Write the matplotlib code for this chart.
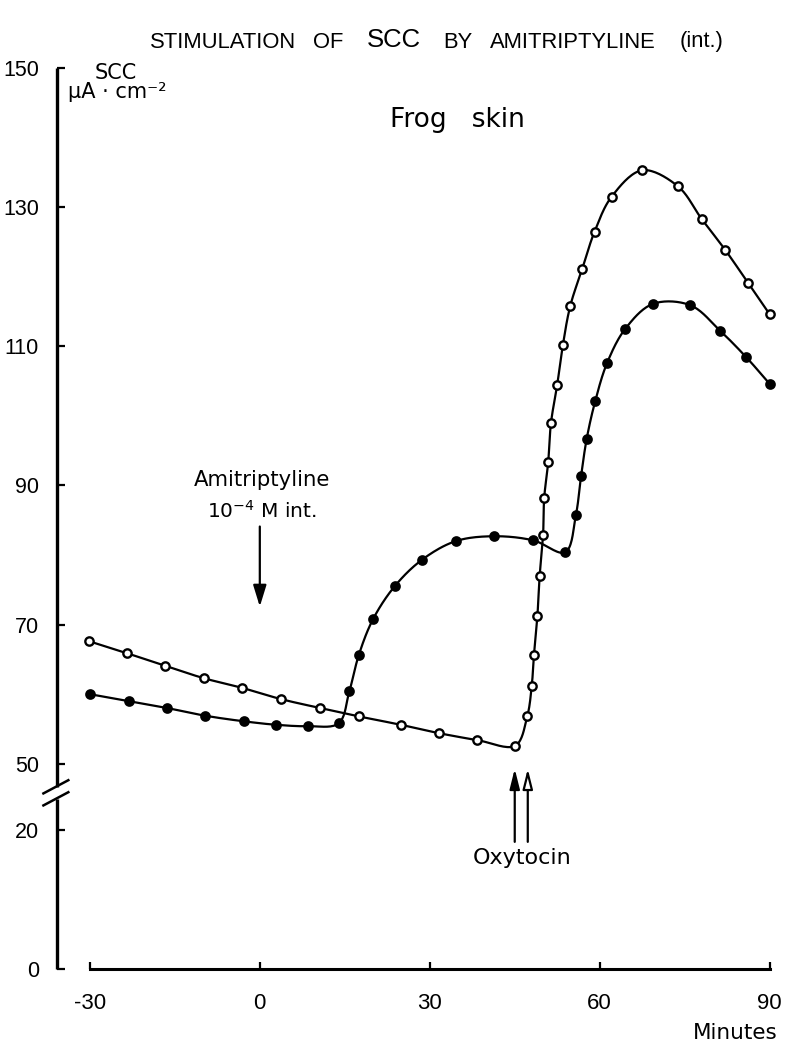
import numpy as np
import matplotlib
matplotlib.use("Agg")
import matplotlib.pyplot as plt

plt.rcParams['font.family'] = ['DejaVu Sans']
NUMFONT = ['Liberation Sans', 'DejaVu Sans']

# ---- data ----
t_open = [-30.1, -23.5, -16.8, -9.9, -3.1, 3.7, 10.7, 17.5, 24.9, 31.6, 38.4, 45.1,
          47.2, 48.0, 48.4, 49.0, 49.4, 50.0, 50.2, 50.9, 51.4, 52.5, 53.5,
          54.8, 56.9, 59.1, 62.1, 67.5, 73.8, 78.0, 82.2, 86.2, 90.0]
v_open = [67.6, 65.9, 64.1, 62.3, 60.9, 59.3, 58.0, 56.8, 55.6, 54.4, 53.4, 52.6,
          56.8, 61.2, 65.7, 71.3, 77.0, 82.9, 88.2, 93.3, 99.0, 104.5, 110.2,
          115.8, 121.1, 126.5, 131.5, 135.3, 133.0, 128.3, 123.8, 119.1, 114.6]

t_filled = [-30.0, -23.1, -16.3, -9.6, -2.8, 2.9, 8.5, 13.9, 15.8, 17.5, 20.0, 23.8,
            28.6, 34.6, 41.4, 48.3, 53.9, 55.8, 56.7, 57.7, 59.2, 61.3,
            64.5, 69.4, 76.0, 81.3, 85.9, 90.0]
v_filled = [60.0, 59.0, 58.0, 56.9, 56.1, 55.6, 55.4, 55.8, 60.4, 65.7, 70.8, 75.5,
            79.3, 82.0, 82.7, 82.1, 80.4, 85.8, 91.3, 96.7, 102.1, 107.6,
            112.5, 116.1, 115.9, 112.2, 108.4, 104.6]

y_ticks = [0, 20, 50, 70, 90, 110, 130, 150]
x_ticks = [-30, 0, 30, 60, 90]

BREAK_SHIFT = 20.5


def to_pos(v):
    v = np.asarray(v, dtype=float)
    return np.where(v <= 20, v, v - BREAK_SHIFT)


def smooth(x, y, sx=5.667, sy=6.95, n=20, alpha=0.5):
    P = np.column_stack([np.asarray(x) * sx, np.asarray(y) * sy])
    P = np.vstack([2 * P[0] - P[1], P, 2 * P[-1] - P[-2]])
    out = []
    for i in range(1, len(P) - 2):
        p0, p1, p2, p3 = P[i - 1], P[i], P[i + 1], P[i + 2]
        t0 = 0.0
        t1 = t0 + max(np.linalg.norm(p1 - p0), 1e-6) ** alpha
        t2 = t1 + max(np.linalg.norm(p2 - p1), 1e-6) ** alpha
        t3 = t2 + max(np.linalg.norm(p3 - p2), 1e-6) ** alpha
        ts = np.linspace(t1, t2, n)[:, None]
        A1 = (t1 - ts) / (t1 - t0) * p0 + (ts - t0) / (t1 - t0) * p1
        A2 = (t2 - ts) / (t2 - t1) * p1 + (ts - t1) / (t2 - t1) * p2
        A3 = (t3 - ts) / (t3 - t2) * p2 + (ts - t2) / (t3 - t2) * p3
        B1 = (t2 - ts) / (t2 - t0) * A1 + (ts - t0) / (t2 - t0) * A2
        B2 = (t3 - ts) / (t3 - t1) * A2 + (ts - t1) / (t3 - t1) * A3
        C = (t2 - ts) / (t2 - t1) * B1 + (ts - t1) / (t2 - t1) * B2
        out.append(C)
    C = np.vstack(out)
    return C[:, 0] / sx, C[:, 1] / sy


W, H = 789, 1054
fig = plt.figure(figsize=(W / 100, H / 100), dpi=100)
xmin, xmax = -35.8, 92.0
ax = fig.add_axes([57 / W, 1 - 969 / H, (781 - 57) / W, (969 - 68) / H])
ax.set_xlim(xmin, xmax)
ax.set_ylim(0, float(to_pos(150)))

lw = 1.6
for t, v, face in [(t_filled, v_filled, 'black'), (t_open, v_open, 'white')]:
    sx_, sy_ = smooth(t, to_pos(v))
    ax.plot(sx_, sy_, color='black', lw=lw, zorder=2)
    ax.plot(t, to_pos(v), 'o', ms=6.0, mfc=face, mec='black', mew=1.7, zorder=3)

# spines
for s in ['top', 'right', 'left']:
    ax.spines[s].set_visible(False)
ax.spines['bottom'].set_bounds(-30, 90)
ax.spines['bottom'].set_linewidth(2.2)

# left axis drawn with a break
lower_top = float((968 - 798) / 6.95)
upper_bot = float((968 - 786) / 6.95)
ax.plot([xmin, xmin], [0, lower_top], color='black', lw=2.4, clip_on=False, solid_capstyle='butt')
ax.plot([xmin, xmin], [upper_bot, float(to_pos(150))], color='black', lw=2.4, clip_on=False,
        solid_capstyle='butt')
for yc in (lower_top, upper_bot):
    ax.plot([xmin - 2.4, xmin + 2.0], [yc - 0.95, yc + 0.95], color='black', lw=1.8, clip_on=False)

ax.set_yticks(to_pos(y_ticks))
ax.set_yticklabels([str(v) for v in y_ticks], family=NUMFONT)
ax.set_xticks(x_ticks)
ax.set_xticklabels([str(v) for v in x_ticks], family=NUMFONT)
ax.tick_params(axis='y', direction='in', length=6, width=1.6, labelsize=15.5, pad=13)
ax.tick_params(axis='x', direction='in', length=5, width=1.6, labelsize=16, pad=17)

# texts
def ftext(px, py, s, **kw):
    fig.text(px / W, 1 - py / H, s, **kw)

title_words = [(150, "STIMULATION", 15.8), (313, "OF", 15.8), (367, "SCC", 18.5),
               (443, "BY", 15.8), (490, "AMITRIPTYLINE", 15.8), (680, "(int.)", 15.8)]
for px, word, fs in title_words:
    ftext(px, 42 if fs < 17 else 40, word, fontsize=fs, ha='left', va='center', family=NUMFONT)

ftext(457, 120, "Frog   skin", fontsize=19, ha='center', va='center')
ftext(116, 73, "SCC", fontsize=15, ha='center', va='center')
ftext(117, 92, "µA · cm⁻²", fontsize=15, ha='center', va='center')
ftext(262, 480, "Amitriptyline", fontsize=15.3, ha='center', va='center')
ftext(262, 511, r"10$^{-4}$ M int.", fontsize=14.5, ha='center', va='center')
ftext(522, 858, "Oxytocin", fontsize=16, ha='center', va='center')
ftext(735, 1033, "Minutes", fontsize=15.5, ha='center', va='center')

# arrows
def pos_of_py(py):
    return (968 - py) / 6.95

ax.annotate("", xy=(0, pos_of_py(606)), xytext=(0, pos_of_py(526)),
            arrowprops=dict(arrowstyle='-|>,head_length=1.3,head_width=0.4', color='black', lw=1.6,
                            shrinkA=0, shrinkB=0))
ax.annotate("", xy=(45.0, pos_of_py(768)), xytext=(45.0, pos_of_py(841)),
            arrowprops=dict(arrowstyle='-|>,head_length=1.2,head_width=0.3', color='black', lw=1.6,
                            shrinkA=0, shrinkB=0))
ax.annotate("", xy=(47.3, pos_of_py(768)), xytext=(47.3, pos_of_py(841)),
            arrowprops=dict(arrowstyle='-|>,head_length=1.2,head_width=0.3', fc='white', ec='black',
                            lw=1.6, shrinkA=0, shrinkB=0))

fig.savefig("out.png", dpi=100)
